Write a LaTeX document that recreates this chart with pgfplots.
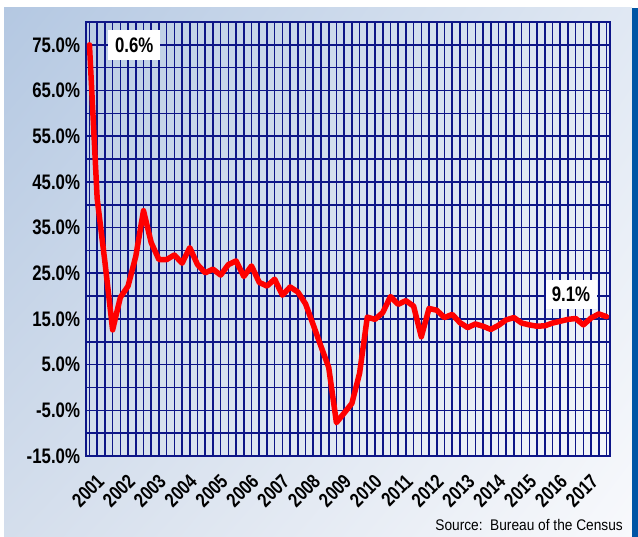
\documentclass[border=0pt]{standalone}
\usepackage{fontspec}
\setmainfont{Liberation Sans}
\newfontfamily\tickfont[FakeStretch=0.8]{Liberation Sans}
\newfontfamily\srcfont[FakeStretch=0.89]{Liberation Sans}
\usepackage{pgfplots}
\pgfplotsset{compat=1.18}
\usetikzlibrary{shadings}

\definecolor{gridnavy}{RGB}{14,22,135}
\definecolor{barblue}{RGB}{0,85,165}
\definecolor{bgtl}{RGB}{180,200,226}
\definecolor{bgtr}{RGB}{224,232,243}
\definecolor{bgbl}{RGB}{212,222,236}
\definecolor{bgbr}{RGB}{248,249,252}

% quarterly values, 2001 Q1 .. 2017 Q4 (x = quarter index)
\pgfplotstableread{
x y
0 75.0
1 41.3
2 27.5
3 12.6
4 19.7
5 22.2
6 28.7
7 38.7
8 31.7
9 28.0
10 28.0
11 29.0
12 27.2
13 30.6
14 26.9
15 25.1
16 25.9
17 24.6
18 26.9
19 27.7
20 24.3
21 26.6
22 23.0
23 22.2
24 23.7
25 20.2
26 22.0
27 20.9
28 18.3
29 13.7
30 9.0
31 4.4
32 -7.7
33 -5.6
34 -3.5
35 3.1
36 15.4
37 14.9
38 16.4
39 19.9
40 18.2
41 19.0
42 17.8
43 11.1
44 17.3
45 16.9
46 15.3
47 16.0
48 14.2
49 13.1
50 13.9
51 13.4
52 12.7
53 13.6
54 14.8
55 15.3
56 14.1
57 13.7
58 13.4
59 13.5
60 14.1
61 14.5
62 14.9
63 15.1
64 13.7
65 15.2
66 16.1
67 15.5
}\growth

\begin{document}
\begin{tikzpicture}[x=1pt,y=1pt]
\path[use as bounding box] (0,0) rectangle (638,537);
\fill[white] (0,0) rectangle (638,537);
\shade[upper left=bgtl, upper right=bgtr, lower left=bgbl, lower right=bgbr] (4,0) rectangle (632,529);
\fill[barblue] (632,0) rectangle (638,529);

\begin{axis}[
    at={(86pt,81pt)}, anchor=south west,
    scale only axis,
    width=524pt, height=434pt,
    xmin=-0.45, xmax=67.45,
    ymin=-15, ymax=80,
    xtick={1.8,5.8,9.8,13.8,17.8,21.8,25.8,29.8,33.8,37.8,41.8,45.8,49.8,53.8,57.8,61.8,65.8},
    xticklabels={2001,2002,2003,2004,2005,2006,2007,2008,2009,2010,2011,2012,2013,2014,2015,2016,2017},
    minor xtick={0,...,67},
    ytick={-15,-5,5,15,25,35,45,55,65,75},
    yticklabels={-15.0\%,-5.0\%,5.0\%,15.0\%,25.0\%,35.0\%,45.0\%,55.0\%,65.0\%,75.0\%},
    minor ytick={-10,0,...,80},
    xmajorgrids=false, xminorgrids=true,
    ymajorgrids=true, yminorgrids=true,
    major tick length=0pt, minor tick length=0pt,
    grid style={gridnavy, line width=1.6pt},
    minor grid style={gridnavy, line width=1.6pt},
    axis line style={gridnavy, line width=2.4pt},
    yticklabel style={font=\tickfont\bfseries\fontsize{21}{21}\selectfont, xshift=-2.5pt},
    xticklabel style={font=\tickfont\bfseries\fontsize{20}{20}\selectfont, rotate=45, anchor=north east, xshift=-14pt, yshift=-3pt},
]
\addplot[red, line width=5.5pt, line join=round, line cap=round] table[x=x, y=y] {\growth};

\node[fill=white, inner sep=0pt, minimum width=52pt, minimum height=30pt,
      font=\tickfont\bfseries\fontsize{21}{21}\selectfont] at (axis cs:5.8,75) {0.6\%};
\node[fill=white, inner sep=0pt, minimum width=51pt, minimum height=29pt,
      font=\tickfont\bfseries\fontsize{21}{21}\selectfont] at (axis cs:62.4,20.35) {9.1\%};
\end{axis}

\node[anchor=base east, inner sep=0pt, font=\srcfont\fontsize{15.4}{15.4}\selectfont] at (623,6) {Source:\ \ Bureau of the Census};
\end{tikzpicture}
\end{document}
